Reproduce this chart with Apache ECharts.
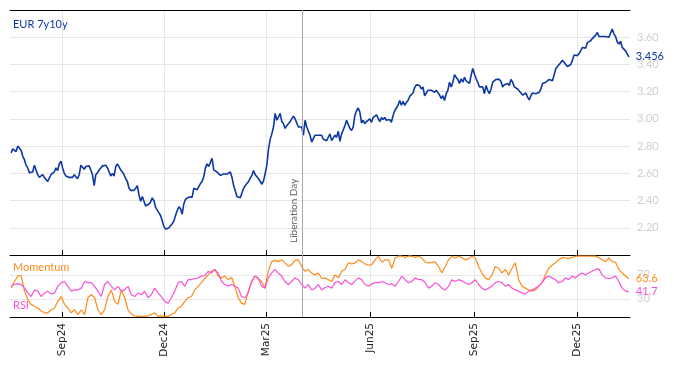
<!DOCTYPE html>
<html><head><meta charset="utf-8">
<script src="https://cdn.jsdelivr.net/npm/echarts@6/dist/echarts.min.js"></script>
<style>html,body{margin:0;padding:0;background:#fff}#c{width:674px;height:366px}</style>
</head><body><div id="c"></div>
<script>
const startDate = [2024, 6, 18];
const endDate = [2026, 0, 16];
const tickDates = [[2024,8,1],[2024,11,1],[2025,2,1],[2025,5,1],[2025,8,1],[2025,11,1]];
const tickLabels = ['Sep24','Dec24','Mar25','Jun25','Sep25','Dec25'];
const eventDate = [2025, 3, 2];
const eventLabel = 'Liberation Day';
const yTicksRate = [2.2,2.4,2.6,2.8,3.0,3.2,3.4,3.6];
const yTicksOsc = [30,70];

const rate = [
2.75,2.78,2.79,2.76,2.80,2.79,2.77,2.725,2.70,2.66,
2.64,2.605,2.60,2.61,2.66,2.625,2.59,2.57,2.56,2.59,
2.57,2.56,2.54,2.55,2.59,2.59,2.61,2.64,2.62,2.67,
2.69,2.64,2.60,2.58,2.59,2.57,2.57,2.57,2.59,2.575,
2.56,2.59,2.66,2.655,2.63,2.65,2.655,2.655,2.625,2.59,
2.51,2.59,2.605,2.625,2.64,2.655,2.66,2.66,2.64,2.63,
2.58,2.60,2.58,2.65,2.67,2.66,2.625,2.61,2.59,2.56,
2.54,2.49,2.475,2.48,2.475,2.49,2.51,2.44,2.395,2.43,
2.44,2.36,2.36,2.375,2.39,2.42,2.40,2.35,2.33,2.31,
2.29,2.25,2.21,2.19,2.19,2.20,2.21,2.23,2.25,2.29,
2.325,2.355,2.34,2.30,2.375,2.41,2.40,2.425,2.425,2.425,
2.49,2.50,2.48,2.49,2.525,2.54,2.575,2.64,2.67,2.65,
2.66,2.71,2.625,2.62,2.61,
2.60,2.585,2.59,2.595,2.59,2.595,2.60,2.61,2.57,2.51,
2.47,2.43,2.42,2.42,2.425,2.49,2.51,2.515,2.54,2.565,
2.585,2.62,2.59,2.59,2.56,2.54,2.52,2.545,2.60,2.66,
2.78,2.85,2.89,2.94,3.04,
2.99,3.00,3.04,2.98,2.965,2.93,2.95,2.965,2.98,3.00,
3.02,3.00,2.99,2.94,2.93,2.94,2.88,2.99,2.94,2.93,
2.88,2.83,2.82,2.88,2.89,2.88,2.88,2.88,2.85,2.85,
2.84,2.865,2.89,2.84,2.83,2.88,2.865,2.91,2.835,2.89,
2.90,2.95,2.99,3.00,2.93,2.915,2.94,3.025,3.06,3.08,
3.05,2.97,2.99,2.965,2.98,2.975,3.00,2.975,3.01,3.02,
3.03,3.025,2.98,3.01,2.995,3.01,2.99,2.98,2.995,2.975,
3.025,3.06,3.08,3.10,3.135,3.10,3.13,3.10,3.12,3.135,
3.165,3.16,
3.19,3.23,3.25,
3.26,3.245,3.22,3.235,3.17,3.17,3.21,3.215,3.21,3.21,
3.195,3.21,3.21,3.175,3.15,3.17,3.135,3.185,3.21,3.27,
3.235,3.27,3.325,3.305,3.29,3.26,3.295,3.27,3.305,3.28,
3.27,3.26,3.32,3.37,3.33,3.295,3.27,3.235,3.24,3.235,
3.185,3.245,3.21,3.185,3.22,3.27,3.28,3.29,3.29,3.29,
3.275,3.235,3.25,3.245,3.26,3.245,3.29,3.27,3.235,3.245,
3.22,3.21,3.19,3.175,3.17,3.19,3.16,3.14,3.17,3.19,
3.195,3.185,3.185,3.195,3.22,3.26,3.265,3.27,3.28,3.29,
3.28,3.28,3.29,3.37,3.385,3.40,3.415,3.43,3.42,3.40,
3.385,3.39,3.40,3.43,3.47,3.465,3.465,3.48,3.50,3.525,
3.535,3.52,3.56,3.57,3.575,3.59,3.60,3.615,3.635,3.605,
3.605,3.605,3.605,3.605,3.615,3.60,3.63,3.66,3.625,3.605,
3.565,3.55,3.57,3.525,3.535,3.50,3.49,3.456
];

const momentum = [
48,59,68,69,43,29,21,18,15,10,7,7,12,15,26,34,21,15,7,12,
4,12,4,32,37,32,12,4,12,34,45,26,21,45,32,12,5,2,1,1,
1,2,4,7,1,2,1,1,4,7,15,18,26,32,34,45,51,57,64,70,
76,79,68,65,68,62,66,51,32,23,21,43,57,68,64,59,48,76,92,94,
92,95,90,84,87,94,95,84,76,79,73,70,73,
64,65,62,59,70,65,76,79,90,88,90,95,92,88,86,87,95,101,91,95,
95,81,98,101,101,99,101,101,99,101,98,91,90,91,91,84,73,84,95,101,
98,101,99,95,97,101,98,84,73,65,62,70,84,81,73,79,70,81,90,62,
51,48,45,43,45,51,57,70,81,86,90,95,99,98,97,99,101,101,101,101,
101,101,101,99,95,92,98,92,91,79,73,68,63.6
];

const rsi = [
51,54,55,54,48,40,34,45,43,34,40,43,38,40,51,57,59,51,43,45,
45,48,59,57,57,51,43,34,54,59,51,45,51,43,45,51,37,34,40,37,
43,32,37,48,40,34,26,23,32,43,57,59,51,62,62,64,65,68,69,76,
73,79,73,59,54,51,54,51,48,34,32,40,59,68,65,51,48,65,73,79,
73,68,59,54,59,65,62,54,48,54,45,48,54,
45,49,51,48,57,59,54,62,57,54,60,65,62,54,51,55,57,57,59,57,
54,55,51,59,68,62,57,59,65,62,62,57,48,51,57,54,48,45,51,62,
59,62,60,57,54,57,62,54,48,45,48,51,57,59,57,51,54,48,45,43,
40,38,43,45,48,51,57,65,68,65,62,57,59,65,62,68,65,70,73,70,
73,76,79,80,70,65,64,65,68,59,48,43,41.7
];

const BASE = new Date(2024, 0, 1).getTime();
function d(a){ return Math.round((new Date(a[0], a[1], a[2]).getTime() - BASE) / 86400000); }
const t0 = d(startDate), t1 = d(endDate);
function pairs(vals){ const n = vals.length; return vals.map((v,i)=>[t0 + (t1-t0)*i/(n-1), v]); }
const tickTs = tickDates.map(d);
const xMin = t0 - 1, xMax = t1 + 1;

const BLUE = '#0d37a3', ORANGE = '#ff8c1a', PINK = '#f653d8';
const GRID = '#e6e6e6', LAB = '#cfcfcf';
const FONT = 'Lato, "Noto Sans", sans-serif';

function xAx(gridIndex, opts){
  return Object.assign({
    type:'value', gridIndex, min:xMin, max:xMax, scale:true,
    axisLine:{show:true, onZero:false, lineStyle:{color:'#000', width:1}},
    axisTick:{show:true, inside:true, length:5, lineStyle:{color:'#000'}, customValues: tickTs},
    axisLabel:{show:false, customValues: tickTs},
    splitLine:{show:true, lineStyle:{color:GRID, width:1}}
  }, opts);
}

const chart = echarts.init(document.getElementById('c'), null, {renderer:'canvas'});
chart.setOption({
  animation:false,
  grid:[
    {left:10, right:44, top:10, height:245},
    {left:10, right:44, top:255, height:62}
  ],
  xAxis:[
    xAx(0, {}),
    xAx(1, {axisLabel:{show:true, customValues: tickTs, rotate:90, margin:6, color:'#222', fontSize:10.5, fontFamily:'"DejaVu Sans", sans-serif',
      formatter:(v)=>{ const i = tickTs.indexOf(Math.round(v)); return i>=0 ? tickLabels[i] : ''; }}}),
    {type:'value', gridIndex:0, position:'top', min:xMin, max:xMax,
      axisLine:{show:true, onZero:false, lineStyle:{color:'#000', width:1}},
      axisTick:{show:false}, axisLabel:{show:false}, splitLine:{show:false}}
  ],
  yAxis:[
    {type:'value', gridIndex:0, position:'right', min:2.0, max:3.8,
      axisLine:{show:false}, axisTick:{show:false, customValues: yTicksRate},
      axisLabel:{customValues: yTicksRate, color:LAB, fontSize:11, fontFamily:FONT, margin:7, formatter:(v)=>v.toFixed(2)},
      splitLine:{show:true, lineStyle:{color:GRID}}},
    {type:'value', gridIndex:1, position:'right', min:0, max:103,
      axisLine:{show:false}, axisTick:{show:false, customValues: yTicksOsc},
      axisLabel:{customValues: yTicksOsc, color:LAB, fontSize:11, fontFamily:FONT, margin:7},
      splitLine:{show:true, lineStyle:{color:GRID}}}
  ],
  series:[
    {type:'line', name:'EUR 7y10y', xAxisIndex:0, yAxisIndex:0, data:pairs(rate), showSymbol:false, symbol:'none',
      lineStyle:{color:BLUE, width:1.6}, itemStyle:{color:BLUE},
      endLabel:{show:true, distance:7, color:BLUE, fontSize:11, fontFamily:FONT, formatter:()=>rate[rate.length-1].toFixed(3)},
      markLine:{symbol:'none', silent:true, animation:false,
        lineStyle:{color:'#a8a8a8', type:'solid', width:1},
        label:{show:true, position:'insideStartTop', formatter:eventLabel, color:'#606060', fontSize:10, fontFamily:FONT, distance:[12,4]},
        data:[{xAxis:d(eventDate)}]}},
    {type:'line', name:'Momentum', xAxisIndex:1, yAxisIndex:1, data:pairs(momentum), showSymbol:false, symbol:'none',
      lineStyle:{color:ORANGE, width:1.2}, itemStyle:{color:ORANGE}, z:2,
      endLabel:{show:true, distance:7, color:ORANGE, fontSize:11, fontFamily:FONT, formatter:()=>momentum[momentum.length-1].toFixed(1)},
      markLine:{symbol:'none', silent:true, animation:false,
        lineStyle:{color:'#a8a8a8', type:'solid', width:1}, label:{show:false},
        data:[{xAxis:d(eventDate)}]}},
    {type:'line', name:'RSI', xAxisIndex:1, yAxisIndex:1, data:pairs(rsi), showSymbol:false, symbol:'none',
      lineStyle:{color:PINK, width:1.2}, itemStyle:{color:PINK}, z:3,
      endLabel:{show:true, distance:7, color:PINK, fontSize:11, fontFamily:FONT, formatter:()=>rsi[rsi.length-1].toFixed(1)}}
  ],
  graphic:[
    {type:'text', left:13, top:19, style:{text:'EUR 7y10y', fill:BLUE, font:'11px '+FONT}},
    {type:'text', left:13, top:262, style:{text:'Momentum', fill:ORANGE, font:'11px '+FONT}},
    {type:'text', left:13, top:300, style:{text:'RSI', fill:PINK, font:'11px '+FONT}}
  ]
});
</script></body></html>
